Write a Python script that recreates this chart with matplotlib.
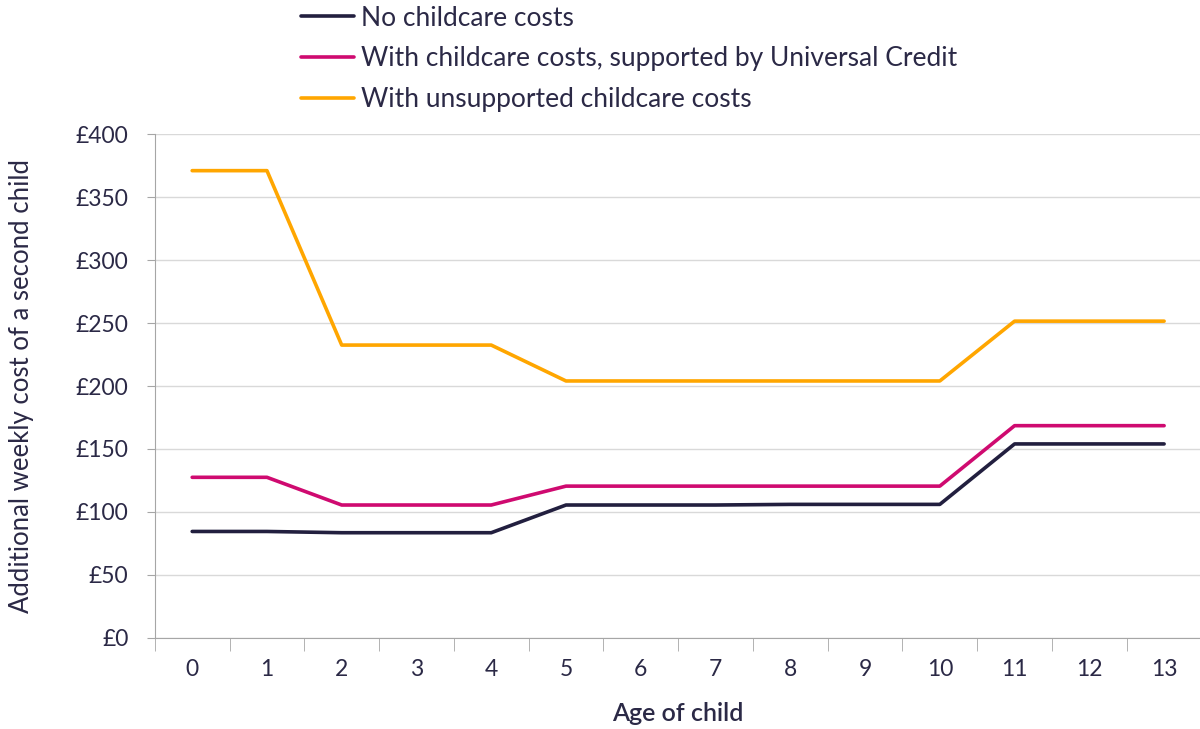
import matplotlib.pyplot as plt
from matplotlib.ticker import FuncFormatter, FixedLocator

# ── Data ───────────────────────────────────────────────────────────────────────
ages = list(range(14))
no_childcare = [84.5, 84.5, 83.5, 83.5, 83.5, 105.5, 105.5, 105.5, 106, 106, 106, 154, 154, 154]
uc_supported = [127.5, 127.5, 105.5, 105.5, 105.5, 120.5, 120.5, 120.5, 120.5, 120.5, 120.5, 168.5, 168.5, 168.5]
unsupported = [371, 371, 232.5, 232.5, 232.5, 204, 204, 204, 204, 204, 204, 251.5, 251.5, 251.5]
labels = ['No childcare costs',
          'With childcare costs, supported by Universal Credit',
          'With unsupported childcare costs']
colours = ['#221f3f', '#cf0a70', '#ffa600']

TEXT = '#2b2946'
plt.rcParams['font.family'] = ['Lato', 'DejaVu Sans']

fig = plt.figure(figsize=(12, 7.29), dpi=100)
ax = fig.add_axes([0.129, 0.125, 0.871, 0.691])

for vals, lab, col in zip([no_childcare, uc_supported, unsupported], labels, colours):
    ax.plot(ages, vals, color=col, lw=2.6, label=lab, solid_capstyle='round')

ax.set_ylim(0, 400)
ax.set_xlim(-0.5, 13.48)
ax.set_yticks(range(0, 401, 50))
ax.yaxis.set_major_formatter(FuncFormatter(lambda v, p: f'£{v:.0f}'))
ax.set_xticks(ages)
ax.xaxis.set_minor_locator(FixedLocator([a - 0.5 for a in ages]))

ax.grid(axis='y', color='#d9d9d9', lw=1)
ax.set_axisbelow(True)
for s in ['top', 'right']:
    ax.spines[s].set_visible(False)
for s in ['left', 'bottom']:
    ax.spines[s].set_color('#a6a6a6')

ax.tick_params(axis='y', colors='#a6a6a6', labelcolor=TEXT, labelsize=16.5, length=6, pad=13)
ax.tick_params(axis='x', which='major', length=0, labelcolor=TEXT, labelsize=16.5, pad=15)
ax.tick_params(axis='x', which='minor', colors='#a6a6a6', length=9)

ax.set_ylabel('Additional weekly cost of a second child', fontsize=18.5, color=TEXT, labelpad=30)
ax.set_xlabel('Age of child', fontsize=18, color=TEXT, labelpad=16, fontweight='semibold')

ax.legend(loc='upper left', bbox_to_anchor=(0.249, 0.996), bbox_transform=fig.transFigure,
          frameon=False, fontsize=19, handlelength=2.0, handletextpad=0.25,
          labelspacing=0.6, labelcolor=TEXT, borderaxespad=0.0, borderpad=0.1)

plt.savefig('out.png', dpi=100)
